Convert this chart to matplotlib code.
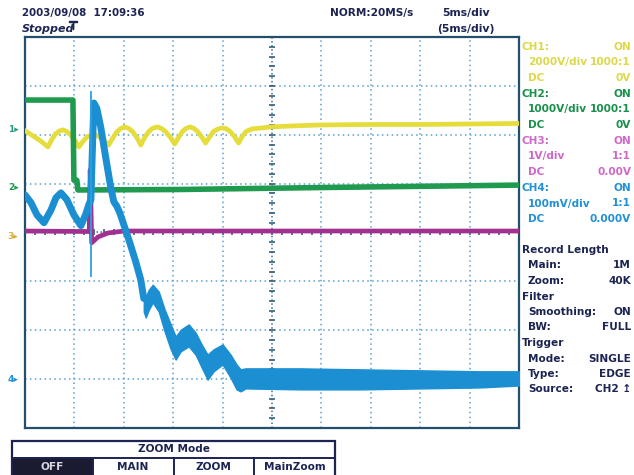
import numpy as np
import matplotlib
matplotlib.use("Agg")
import matplotlib.pyplot as plt
from matplotlib.patches import Rectangle
import matplotlib.transforms as mtransforms

# ---------------- data (time in ms, amplitude in screen divisions) ----------------
ch1_t = [0.0, 0.8, 1.6, 2.32, 2.7, 3.1, 3.5, 3.85, 4.2, 4.6, 5.0, 5.45, 5.85, 6.3, 6.97,
         7.5, 8.0, 8.48, 8.9, 9.3, 9.7, 10.1, 10.5, 10.9, 11.3, 11.72, 12.1, 12.5, 12.9,
         13.4, 13.8, 14.25, 14.7, 15.15, 15.55, 15.95, 16.3, 16.7, 17.1, 17.5, 17.9, 18.28,
         18.7, 19.1, 19.55, 20.0, 20.4, 20.8, 21.2, 21.62, 22.0, 22.4, 23.0, 24.0, 24.85,
         27.0, 29.9, 35.0, 40.0, 45.0, 50.0]
ch1_v = [2.08, 1.98, 1.87, 1.75, 1.90, 2.02, 2.08, 2.10, 2.07, 2.00, 1.90, 1.75, 1.86, 1.96,
         2.01, 1.96, 1.88, 1.79, 1.94, 2.06, 2.13, 2.16, 2.13, 2.06, 1.95, 1.79, 1.94, 2.06,
         2.13, 2.16, 2.13, 2.06, 1.95, 1.81, 1.95, 2.07, 2.13, 2.16, 2.13, 2.06, 1.95, 1.83,
         1.96, 2.07, 2.12, 2.14, 2.12, 2.06, 1.96, 1.83, 1.97, 2.07, 2.12, 2.14, 2.16,
         2.18, 2.20, 2.21, 2.21, 2.22, 2.23]

ch2_t = [0.0, 4.85, 4.95, 5.25, 5.35, 15.7, 30.0, 50.0]
ch2_v = [2.71, 2.71, 1.07, 1.07, 0.87, 0.88, 0.92, 0.97]

ch3_t = [0.0, 6.5, 6.6, 6.75, 7.4, 8.4, 10.0, 30.0, 50.0]
ch3_v = [0.03, 0.02, 1.28, -0.21, -0.09, -0.01, 0.03, 0.03, 0.03]

ch4_t = [0.0, 0.61, 1.21, 1.92, 2.63, 3.13, 3.64, 4.24, 4.95, 5.66, 6.16, 6.46, 6.67,
         6.82, 6.97, 7.27, 7.68, 8.18, 8.69, 8.99, 9.29, 9.60, 10.10, 10.61, 11.21, 11.72, 12.02]
ch4_v = [0.77, 0.61, 0.36, 0.20, 0.46, 0.71, 0.81, 0.67, 0.36, 0.14, 0.38, 0.57, 0.67,
         1.69, 2.65, 2.54, 2.14, 1.52, 0.91, 0.63, 0.54, 0.40, 0.10, -0.21, -0.60, -0.97, -1.35]
# noisy band of CH4 after the fall (upper / lower envelope)
ch4_env_t = [12.02, 12.22, 12.53, 12.93, 13.54, 14.14, 14.75, 15.25, 15.76, 16.57, 17.27,
             17.88, 18.48, 19.09, 20.0, 20.81, 21.41, 21.82, 22.32, 27.88, 33.94, 40.0,
             46.06, 50.0]
ch4_env_hi = [-1.21, -1.31, -1.17, -1.07, -1.21, -1.58, -1.88, -2.13, -1.99, -1.88, -2.05,
              -2.29, -2.50, -2.39, -2.29, -2.50, -2.70, -2.80, -2.78, -2.78, -2.80, -2.82,
              -2.84, -2.84]
ch4_env_lo = [-1.62, -1.74, -1.58, -1.43, -1.62, -2.03, -2.39, -2.60, -2.43, -2.33, -2.50,
              -2.76, -3.01, -2.84, -2.70, -2.97, -3.21, -3.25, -3.19, -3.21, -3.21, -3.19,
              -3.17, -3.13]
# single-sample glitch on CH4 at the trigger
glitch_t = [6.65, 6.65]
glitch_v = [2.87, -0.90]

trigger_t = 4.9
ground_marks = [("1", 2.10), ("2", 0.93), ("3", -0.09), ("4", -3.00)]

ch_names = ["CH1:", "CH2:", "CH3:", "CH4:"]
ch_state = ["ON", "ON", "ON", "ON"]
ch_scale = ["2000V/div", "1000V/div", "1V/div", "100mV/div"]
ch_probe = ["1000:1", "1000:1", "1:1", "1:1"]
ch_coupling = ["DC", "DC", "DC", "DC"]
ch_offset = ["0V", "0V", "0.00V", "0.000V"]

info_rows = [("Record Length", ""), (" Main:", "1M"), (" Zoom:", "40K"), ("Filter", ""),
             (" Smoothing:", "ON"), (" BW:", "FULL"), ("Trigger", ""), (" Mode:", "SINGLE"),
             (" Type:", "EDGE"), (" Source:", "CH2 \u21a5")]

zoom_title = "ZOOM Mode"
zoom_buttons = ["OFF", "MAIN", "ZOOM", "MainZoom"]

header_date = "2003/09/08  17:09:36"
header_state = "Stopped"
header_rate = "NORM:20MS/s"
header_tb = "5ms/div"
header_tb2 = "(5ms/div)"

# ---------------- style ----------------
YEL = "#e4dd3c"
GRN = "#1f9a4e"
MAG = "#a2308f"
BLU = "#1b8fd2"
NAVY = "#1c2452"
FRAME = "#234e6c"
GRID = "#5a9fd0"
TXT_YEL = "#dcd84a"
TXT_GRN = "#17904a"
TXT_MAG = "#cf68c8"
TXT_BLU = "#2290d6"
ch_txt_colors = [TXT_YEL, TXT_GRN, TXT_MAG, TXT_BLU]
mark_colors = ["#2a9a82", GRN, "#d8b040", TXT_BLU]

W, H = 634, 475
fig = plt.figure(figsize=(W / 100, H / 100), dpi=100)
fig.patch.set_facecolor("white")

def fx(x):
    return x / W

def fy(y):
    return 1 - y / H

ax = fig.add_axes([fx(25), fy(428), 494 / W, 391 / H])
ax.set_xlim(0, 50)
ax.set_ylim(-4, 4)
ax.set_xticks([])
ax.set_yticks([])
for s in ax.spines.values():
    s.set_color(FRAME)
    s.set_linewidth(1.6)

# graticule
for x in np.arange(5, 50, 5):
    if x == 25:
        continue
    ax.axvline(x, color=GRID, ls=(0, (1, 2.2)), lw=1.1, zorder=1)
for y in np.arange(-3, 4, 1):
    if y == 0:
        continue
    ax.axhline(y, color=GRID, ls=(0, (1, 2.2)), lw=1.1, zorder=1)
ax.axvline(25, color="#3d6f90", ls=(0, (1, 1.6)), lw=1.1, zorder=1)
ax.axhline(0, color="#3d6f90", ls=(0, (1, 1.6)), lw=1.1, zorder=1)
yt = np.arange(-4, 4.01, 0.2)
ax.plot(np.full(len(yt), 25.0), yt, ls="none", marker="_", ms=4.5, mew=1.2,
        color="#34607e", zorder=1)
xt = np.arange(0, 50.01, 1.0)
ax.plot(xt, np.zeros(len(xt)), ls="none", marker="|", ms=4.5, mew=1.2,
        color="#34607e", zorder=1)

# traces
ax.plot(ch1_t, ch1_v, color=YEL, lw=3.4, solid_joinstyle="round", zorder=3)
ax.plot(ch2_t, ch2_v, color=GRN, lw=4.0, solid_joinstyle="round", zorder=4)
ax.plot(ch3_t, ch3_v, color=MAG, lw=3.4, solid_joinstyle="round", zorder=5)
ax.plot(ch4_t, ch4_v, color=BLU, lw=5.0, solid_joinstyle="round",
        solid_capstyle="round", zorder=6)
ax.fill_between(ch4_env_t, ch4_env_lo, ch4_env_hi, color=BLU, lw=1.0, zorder=6)
ax.plot(glitch_t, glitch_v, color="#2aa0e0", lw=1.3, zorder=7)

# ground markers on the left edge
for (lab, v), c in zip(ground_marks, mark_colors):
    ax.text(-1.2, v, lab + "\u25b8", color=c, fontsize=6.5, fontweight="bold",
            ha="center", va="center", clip_on=False)

# trigger position marker above the graticule (drawn as a marker, not text)
trans = mtransforms.blended_transform_factory(ax.transData, ax.transAxes)
ax.plot([trigger_t], [1.03], transform=trans, marker=r"$\top$", ms=6,
        color=NAVY, clip_on=False, zorder=8)

# header
fkw = dict(fontweight="bold", color=NAVY, family="DejaVu Sans")
fig.text(fx(22), fy(13), header_date, fontsize=7.4, va="center", ha="left", **fkw)
fig.text(fx(22), fy(29), header_state, fontsize=8, va="center", ha="left",
         style="italic", **fkw)
fig.text(fx(330), fy(13), header_rate, fontsize=7.6, va="center", ha="left", **fkw)
fig.text(fx(442), fy(13), header_tb, fontsize=7.8, va="center", ha="left", **fkw)
fig.text(fx(437), fy(29), header_tb2, fontsize=7.8, va="center", ha="left", **fkw)

# right panel: channels
lx, lx2, rx = 522, 528, 631
y0 = 46.5
dy = 15.7
row = 0
for i in range(4):
    c = ch_txt_colors[i]
    kw = dict(fontsize=7.6, fontweight="bold", color=c, va="center")
    y = y0 + row * dy
    fig.text(fx(lx), fy(y), ch_names[i], ha="left", **kw)
    fig.text(fx(rx), fy(y), ch_state[i], ha="right", **kw)
    y = y0 + (row + 1) * dy
    fig.text(fx(lx2), fy(y), ch_scale[i], ha="left", **kw)
    fig.text(fx(rx), fy(y), ch_probe[i], ha="right", **kw)
    y = y0 + (row + 2) * dy
    fig.text(fx(lx2), fy(y), ch_coupling[i], ha="left", **kw)
    fig.text(fx(rx), fy(y), ch_offset[i], ha="right", **kw)
    row += 3

# right panel: acquisition info
y1 = 250
for j, (l, r) in enumerate(info_rows):
    y = y1 + j * 15.5
    kw = dict(fontsize=7.6, fontweight="bold", color=NAVY, va="center")
    xl = lx2 if l.startswith(" ") else lx
    fig.text(fx(xl), fy(y), l.strip(), ha="left", **kw)
    if r:
        fig.text(fx(rx), fy(y), r, ha="right", **kw)

# zoom-mode table
tx0, tx1 = 12, 335
ty0, ty1, ty2 = 441, 458, 476
fig.patches.append(Rectangle((fx(tx0), fy(ty2)), (tx1 - tx0) / W, (ty2 - ty0) / H,
                             transform=fig.transFigure, fill=False, ec=NAVY, lw=1.6))
fig.lines.append(plt.Line2D([fx(tx0), fx(tx1)], [fy(ty1), fy(ty1)],
                            transform=fig.transFigure, color=NAVY, lw=1.4))
fig.text(fx((tx0 + tx1) / 2), fy((ty0 + ty1) / 2), zoom_title, fontsize=7.6,
         fontweight="bold", color=NAVY, ha="center", va="center")
cell_w = (tx1 - tx0) / len(zoom_buttons)
for k, b in enumerate(zoom_buttons):
    cx0 = tx0 + k * cell_w
    if k == 0:
        fig.patches.append(Rectangle((fx(cx0), fy(ty2)), cell_w / W, (ty2 - ty1) / H,
                                     transform=fig.transFigure, fc="#1a1a30", ec=NAVY,
                                     lw=1.2))
        col = "#d8d8e0"
    else:
        fig.lines.append(plt.Line2D([fx(cx0), fx(cx0)], [fy(ty1), fy(ty2)],
                                    transform=fig.transFigure, color=NAVY, lw=1.4))
        col = NAVY
    fig.text(fx(cx0 + cell_w / 2), fy((ty1 + ty2) / 2), b, fontsize=7.6,
             fontweight="bold", color=col, ha="center", va="center")

fig.savefig("out.png", dpi=100, facecolor="white")
